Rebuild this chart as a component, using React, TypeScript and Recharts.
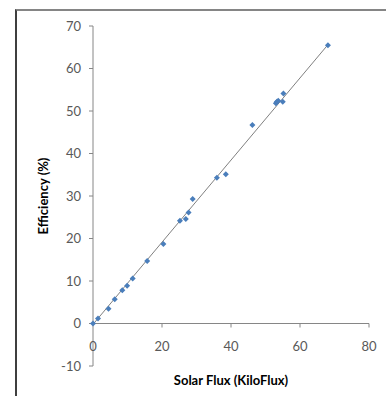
import { ReferenceLine, Scatter, ScatterChart, XAxis, YAxis } from "recharts";

const fluxValues = [0, 1.45, 4.5, 6.3, 8.5, 9.9, 11.5, 15.7, 20.4, 25.2, 26.9, 27.7, 28.9, 35.9, 38.5, 46.2, 53.0, 53.3, 53.7, 55.0, 55.2, 68.1];
const efficiencyValues = [0, 1.2, 3.5, 5.7, 7.8, 8.9, 10.6, 14.7, 18.7, 24.2, 24.6, 26.1, 29.3, 34.3, 35.1, 46.7, 51.8, 52.2, 52.4, 52.2, 54.1, 65.5];

const trendFlux = [0, 68.1];
const trendEfficiency = [-0.2, 65.6];

const xTicks = [0, 20, 40, 60, 80];
const yTicks = [-10, 0, 10, 20, 30, 40, 50, 60, 70];

const WIDTH = 386;
const HEIGHT = 396;
const MARGIN = { top: 26, right: 17, bottom: 0, left: 33 };
const X_AXIS_H = 30;
const PLOT_H = HEIGHT - MARGIN.top - MARGIN.bottom - X_AXIS_H;
// distance from the bottom of the plot (y = -10) up to the y = 0 line
const ZERO_OFFSET = (PLOT_H * (0 - yTicks[0])) / (yTicks[yTicks.length - 1] - yTicks[0]);

const FONT = "Lato, 'Open Sans', sans-serif";
const AXIS_COLOR = "#868686";
const TEXT_COLOR = "#595959";

const points = fluxValues.map((x, i) => ({ x, y: efficiencyValues[i] }));
const trend = trendFlux.map((x, i) => ({ x, y: trendEfficiency[i] }));

function XTick({ x, y, payload }: any) {
  const axisY = y - ZERO_OFFSET;
  return (
    <g>
      {payload.value !== 0 && <line stroke={AXIS_COLOR} x1={x} x2={x} y1={axisY} y2={axisY + 4} />}
      <text fill={TEXT_COLOR} fontFamily={FONT} fontSize={13} textAnchor="middle" x={x} y={axisY + 27}>
        {payload.value}
      </text>
    </g>
  );
}

function Diamond({ cx, cy }: any) {
  return <polygon fill="#4a7ebb" points={`${cx - 3},${cy} ${cx},${cy - 3} ${cx + 3},${cy} ${cx},${cy + 3}`} />;
}

export default function App() {
  return (
    <div style={{ position: "absolute", left: 0, top: 0, width: WIDTH, height: HEIGHT, background: "#fff", overflow: "hidden" }}>
      <div
        style={{
          position: "absolute",
          left: 15,
          top: 9,
          right: -4,
          bottom: -4,
          borderLeft: "2px solid #3f3f3f",
          borderTop: "2px solid #858585",
        }}
      />
      <div style={{ position: "absolute", left: 0, top: 0 }}>
        <ScatterChart height={HEIGHT} margin={MARGIN} width={WIDTH}>
          <XAxis
            axisLine={false}
            dataKey="x"
            domain={[0, 80]}
            height={X_AXIS_H}
            label={{ value: "Solar Flux (KiloFlux)", position: "insideBottom", offset: 11, fill: "#000", fontFamily: FONT, fontSize: 13, fontWeight: 700 }}
            tick={<XTick />}
            tickLine={false}
            tickMargin={0}
            tickSize={0}
            ticks={xTicks}
            type="number"
          />
          <YAxis
            axisLine={{ stroke: AXIS_COLOR }}
            dataKey="y"
            domain={[-10, 70]}
            label={{
              value: "Efficiency (%)",
              angle: -90,
              position: "insideLeft",
              offset: 10,
              style: { textAnchor: "middle" },
              fill: "#000",
              fontFamily: FONT,
              fontSize: 13,
              fontWeight: 700,
            }}
            tick={{ fill: TEXT_COLOR, fontFamily: FONT, fontSize: 13 }}
            tickLine={{ stroke: AXIS_COLOR }}
            tickMargin={8}
            tickSize={4}
            ticks={yTicks}
            type="number"
            width={60}
          />
          <ReferenceLine stroke={AXIS_COLOR} y={0} />
          <Scatter data={trend} isAnimationActive={false} line={{ stroke: "#808080", strokeWidth: 1 }} shape={() => null} />
          <Scatter data={points} isAnimationActive={false} shape={<Diamond />} />
        </ScatterChart>
      </div>
    </div>
  );
}
